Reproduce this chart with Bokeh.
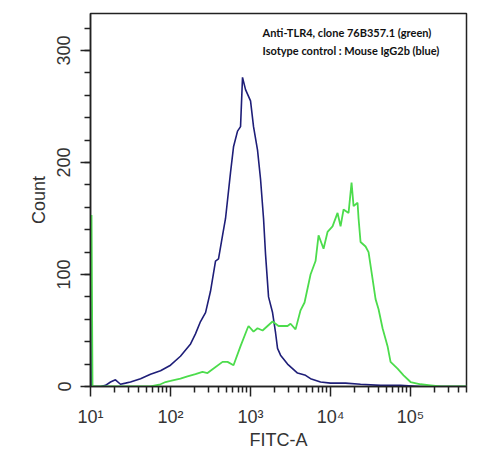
from bokeh.plotting import figure
from bokeh.models import FixedTicker, SingleIntervalTicker, Label
from bokeh.embed import file_html
from bokeh.resources import INLINE

# ---- data (FITC-A fluorescence, event count) ----
iso_fitc = [10.0, 10.2, 13.3, 15.4, 17.8, 20.5, 23.7, 27.4, 31.6, 42.2, 56.2, 75, 100, 133, 178,
            205, 237, 274, 316, 365, 398, 447, 487, 562, 613, 688, 750, 794, 866, 1000, 1090,
            1223, 1334, 1454, 1540, 1679, 1884, 2054, 2175, 2371, 2900, 3868, 4870, 5623,
            7499, 10000, 15400, 23710, 42170, 74990, 133400, 501000]
iso_count = [153, 0, 0, 1, 4, 6, 2, 3, 4, 7, 11, 14, 19, 27, 38,
             47, 58, 66, 85, 112, 114, 135, 150, 191, 214, 228, 232, 276, 265, 255, 232,
             211, 185, 150, 118, 80, 66, 48, 34, 28, 20, 12, 10, 7,
             4, 3, 3, 2, 1, 1, 0, 0]

tlr4_fitc = [10.3, 10.6, 56.2, 75, 86.6, 100, 133, 163, 205, 251, 290, 345, 447, 516, 613,
             750, 917, 944, 1090, 1223, 1413, 1884, 2239, 2900, 3162, 3652, 4217, 4732,
             5623, 6494, 7079, 8175, 9170, 10590, 12230, 13340, 14540, 16790, 18300,
             19390, 21750, 22390, 23710, 27380, 29850, 33500, 36520, 39810, 44670,
             51560, 56230, 68770, 81750, 100000, 133400, 177800, 237100, 501000]
tlr4_count = [153, 0, 0, 2, 4, 5, 7, 9, 11, 13, 12, 16, 22, 22, 19,
              36, 52, 54, 49, 52, 50, 58, 54, 54, 56, 51, 68, 75,
              100, 112, 135, 123, 138, 143, 155, 143, 158, 155, 182,
              161, 164, 150, 129, 125, 120, 96, 78, 69, 52,
              36, 22, 16, 10, 4, 2, 1, 0, 0]

x_major = [10, 100, 1000, 10000, 100000]
x_labels = ["10¹", "10²", "10³", "10⁴", "10⁵"]
x_minor = [m * 10 ** e for e in range(1, 6) for m in range(2, 10)]

legend_lines = ["Anti-TLR4, clone 76B357.1 (green)", "Isotype control : Mouse IgG2b (blue)"]
legend_y = [316, 300]

FONT = "Liberation Sans"
TXT = "#333333"

p = figure(width=479, height=452, x_axis_type="log", x_range=(10, 5.0e5), y_range=(0, 333),
           output_backend="svg", toolbar_location=None,
           min_border_left=90, min_border_right=13, min_border_top=13, min_border_bottom=64)

p.grid.visible = False
p.outline_line_color = "#222222"
p.outline_line_width = 1.5
p.background_fill_color = "white"
p.border_fill_color = "white"

p.line(iso_fitc, iso_count, line_color="#1e1e78", line_width=1.6)
p.line(tlr4_fitc, tlr4_count, line_color="#4cdc4c", line_width=1.8)

# axes
xa = p.xaxis[0]
xa.ticker = FixedTicker(ticks=x_major, minor_ticks=x_minor)
xa.major_label_overrides = {t: l for t, l in zip(x_major, x_labels)}
xa.axis_label = "FITC-A"

ya = p.yaxis[0]
ya.ticker = SingleIntervalTicker(interval=100, num_minor_ticks=5)
ya.axis_label = "Count"
ya.major_label_orientation = "vertical"

for ax in (xa, ya):
    ax.axis_line_color = "#222222"
    ax.axis_line_width = 1.5
    ax.major_tick_line_color = "#222222"
    ax.minor_tick_line_color = "#222222"
    ax.major_tick_line_width = 1.5
    ax.minor_tick_line_width = 1.5
    ax.major_tick_out = 10
    ax.major_tick_in = 0
    ax.minor_tick_out = 6
    ax.minor_tick_in = 0
    ax.major_label_text_font = FONT
    ax.major_label_text_font_size = "18px"
    ax.major_label_text_color = TXT
    ax.axis_label_text_font = FONT
    ax.axis_label_text_font_size = "18px"
    ax.axis_label_text_font_style = "normal"
    ax.axis_label_text_color = TXT

xa.major_label_standoff = 10
xa.axis_label_standoff = 0
ya.major_label_standoff = 10
ya.axis_label_standoff = 6

for txt, yy in zip(legend_lines, legend_y):
    p.add_layout(Label(x=1413, y=yy, text=txt, text_font="Lato", text_font_style="bold",
                       text_font_size="11px", text_color="#111111",
                       text_align="left", text_baseline="middle"))

open("out.html", "w").write(file_html(p, INLINE))
